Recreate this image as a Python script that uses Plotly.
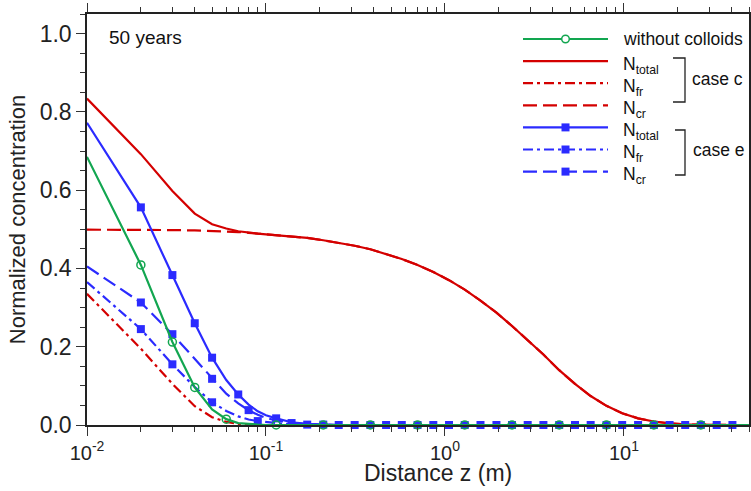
import plotly.graph_objects as go

# Distance along the column (m)
z = [0.01, 0.02, 0.03, 0.04, 0.05, 0.06, 0.07, 0.08, 0.09, 0.1,
     0.114, 0.139, 0.17, 0.209, 0.255, 0.313, 0.383, 0.469, 0.574, 0.703,
     0.861, 1.054, 1.29, 1.58, 1.94, 2.37, 2.9, 3.55, 4.35, 5.33,
     6.52, 7.99, 9.78, 12.0, 14.7, 18.0, 22.0, 26.9, 33.0, 40.4, 50.0]

# Normalized concentrations after 50 years
without_colloids = [0.685, 0.409, 0.212, 0.096, 0.040, 0.015, 0.005, 0.002, 0.001, 0.0,
                    0.0, 0.0, 0.0, 0.0, 0.0, 0.0, 0.0, 0.0, 0.0, 0.0,
                    0.0, 0.0, 0.0, 0.0, 0.0, 0.0, 0.0, 0.0, 0.0, 0.0,
                    0.0, 0.0, 0.0, 0.0, 0.0, 0.0, 0.0, 0.0, 0.0, 0.0, 0.0]

c_total = [0.834, 0.692, 0.598, 0.540, 0.513, 0.502, 0.495, 0.491, 0.489, 0.487,
           0.485, 0.482, 0.478, 0.472, 0.466, 0.458, 0.449, 0.437, 0.424, 0.409,
           0.391, 0.370, 0.346, 0.318, 0.287, 0.253, 0.217, 0.180, 0.140, 0.105,
           0.074, 0.049, 0.030, 0.017, 0.009, 0.004, 0.0015, 0.0005, 0.0, 0.0, 0.0]
c_fr = [0.335, 0.195, 0.105, 0.048, 0.020, 0.008, 0.003, 0.001, 0.0, 0.0,
        0.0, 0.0, 0.0, 0.0, 0.0, 0.0, 0.0, 0.0, 0.0, 0.0,
        0.0, 0.0, 0.0, 0.0, 0.0, 0.0, 0.0, 0.0, 0.0, 0.0,
        0.0, 0.0, 0.0, 0.0, 0.0, 0.0, 0.0, 0.0, 0.0, 0.0, 0.0]
c_cr = [0.499, 0.499, 0.498, 0.497, 0.496, 0.495, 0.493, 0.491, 0.489, 0.487,
        0.485, 0.482, 0.478, 0.472, 0.466, 0.458, 0.449, 0.437, 0.424, 0.409,
        0.391, 0.370, 0.346, 0.318, 0.287, 0.253, 0.217, 0.180, 0.140, 0.105,
        0.074, 0.049, 0.030, 0.017, 0.009, 0.004, 0.0015, 0.0005, 0.0, 0.0, 0.0]

e_total = [0.772, 0.556, 0.383, 0.260, 0.172, 0.115, 0.078, 0.052, 0.035, 0.025,
           0.017, 0.007, 0.003, 0.001, 0.0, 0.0, 0.0, 0.0, 0.0, 0.0,
           0.0, 0.0, 0.0, 0.0, 0.0, 0.0, 0.0, 0.0, 0.0, 0.0,
           0.0, 0.0, 0.0, 0.0, 0.0, 0.0, 0.0, 0.0, 0.0, 0.0, 0.0]
e_fr = [0.365, 0.245, 0.155, 0.097, 0.058, 0.036, 0.022, 0.014, 0.010, 0.007,
        0.005, 0.002, 0.001, 0.0, 0.0, 0.0, 0.0, 0.0, 0.0, 0.0,
        0.0, 0.0, 0.0, 0.0, 0.0, 0.0, 0.0, 0.0, 0.0, 0.0,
        0.0, 0.0, 0.0, 0.0, 0.0, 0.0, 0.0, 0.0, 0.0, 0.0, 0.0]
e_cr = [0.405, 0.313, 0.232, 0.168, 0.118, 0.080, 0.055, 0.038, 0.026, 0.018,
        0.012, 0.005, 0.002, 0.0005, 0.0, 0.0, 0.0, 0.0, 0.0, 0.0,
        0.0, 0.0, 0.0, 0.0, 0.0, 0.0, 0.0, 0.0, 0.0, 0.0,
        0.0, 0.0, 0.0, 0.0, 0.0, 0.0, 0.0, 0.0, 0.0, 0.0, 0.0]

x_tickvals = [0.01, 0.1, 1, 10]
x_ticktext = ["10<sup>-2</sup>", "10<sup>-1</sup>", "10<sup>0</sup>", "10<sup>1</sup>"]
y_tickvals = [0.0, 0.2, 0.4, 0.6, 0.8, 1.0]

# marker positions (indices into z) for the symbol-bearing curves
green_marks = [1, 2, 3, 5] + list(range(10, len(z), 3))
e_total_marks = [1, 2, 3, 4, 6] + list(range(10, len(z), 3))
e_cr_marks = [1, 2, 4, 7] + list(range(11, len(z), 3))
e_fr_marks = [1, 2, 4, 8] + list(range(12, len(z), 3))

GREEN = "#12a650"
RED = "#d40000"
BLUE = "#2b2bff"
DASH = "14px,6px"
DASHDOT = "10px,4px,3px,4px"
FONT = "Liberation Sans, Arial, Helvetica, sans-serif"
INK = "#111"

# plot area in pixels (used to place the key, brackets and labels)
W, H = 751, 491
L, R, T, B = 87, 749, 14, 425


def px_x(px):
    return (px - L) / (R - L)


def px_y(py):
    return (B - py) / (B - T)


fig = go.Figure()


def add_series(y, color, dash, marks=None, symbol=None):
    line = dict(color=color, width=2.2, dash=dash)
    fig.add_trace(go.Scatter(x=z, y=y, mode="lines", line=line,
                             showlegend=False, hoverinfo="skip"))
    if marks is None:
        return
    if symbol == "circle":
        marker = dict(symbol="circle", size=8, color="rgba(0,0,0,0)",
                      line=dict(color=color, width=1.5))
    else:
        marker = dict(symbol=symbol, size=8, color=color, line=dict(width=0))
    fig.add_trace(go.Scatter(x=[z[i] for i in marks], y=[y[i] for i in marks],
                             mode="markers", marker=marker, showlegend=False,
                             cliponaxis=False))


add_series(c_cr, RED, DASH)
add_series(c_fr, RED, DASHDOT)
add_series(c_total, RED, "solid")
add_series(e_cr, BLUE, DASH, e_cr_marks, "square")
add_series(e_fr, BLUE, DASHDOT, e_fr_marks, "square")
add_series(e_total, BLUE, "solid", e_total_marks, "square")
add_series(without_colloids, GREEN, "solid", green_marks, "circle")

minor_x = [m * 10.0 ** e for e in (-2, -1, 0, 1) for m in range(2, 10) if m * 10.0 ** e <= 50]

fig.update_xaxes(
    type="log", range=[-2, 1.69897], tickmode="array",
    tickvals=x_tickvals, ticktext=x_ticktext, automargin=False,
    ticks="outside", ticklen=9, tickwidth=1.2, tickcolor="#333",
    minor=dict(tickmode="array", tickvals=minor_x, ticks="outside",
               ticklen=5, tickwidth=1.2, tickcolor="#333"),
    showline=True, linecolor="#222", linewidth=1.5, mirror="ticks",
    showgrid=False, zeroline=False,
    tickfont=dict(size=20, color="#222", family=FONT),
)
fig.update_yaxes(
    range=[0, 1.05], tickmode="array", tickvals=y_tickvals, tickformat=".1f",
    automargin=False,
    ticks="outside", ticklen=9, tickwidth=1.2, tickcolor="#333",
    minor=dict(dtick=0.05, ticks="outside", ticklen=5, tickwidth=1.2, tickcolor="#333"),
    showline=True, linecolor="#222", linewidth=1.5, mirror="ticks",
    showgrid=False, zeroline=False,
    tickfont=dict(size=23, color="#222", family=FONT),
    title=dict(text="Normalized concentration", font=dict(size=22, color="#222", family=FONT),
               standoff=8),
)

# ---- key (drawn in pixel positions inside the plot area) ----
key_rows = [
    ("without colloids", GREEN, "solid", "circle"),
    ("N<sub>total</sub>", RED, "solid", None),
    ("N<sub>fr</sub>", RED, DASHDOT, None),
    ("N<sub>cr</sub>", RED, DASH, None),
    ("N<sub>total</sub>", BLUE, "solid", "square"),
    ("N<sub>fr</sub>", BLUE, DASHDOT, "square"),
    ("N<sub>cr</sub>", BLUE, DASH, "square"),
]
KEY_X0, KEY_X1, KEY_TEXT_X, KEY_Y0, KEY_DY = 523, 608, 621, 39, 22.1

shapes = []
annotations = []
for i, (label, color, dash, sym) in enumerate(key_rows):
    yy = KEY_Y0 + KEY_DY * i
    shapes.append(dict(type="line", xref="paper", yref="paper",
                       x0=px_x(KEY_X0), x1=px_x(KEY_X1), y0=px_y(yy), y1=px_y(yy),
                       line=dict(color=color, width=2.2, dash=dash)))
    xm = (KEY_X0 + KEY_X1) / 2
    if sym == "square":
        shapes.append(dict(type="rect", xref="paper", yref="paper",
                           x0=px_x(xm - 4), x1=px_x(xm + 4),
                           y0=px_y(yy - 4), y1=px_y(yy + 4),
                           fillcolor=color, line=dict(width=0)))
    elif sym == "circle":
        shapes.append(dict(type="circle", xref="paper", yref="paper",
                           x0=px_x(xm - 3.8), x1=px_x(xm + 3.8),
                           y0=px_y(yy - 3.8), y1=px_y(yy + 3.8),
                           fillcolor="white", line=dict(color=color, width=1.5)))
    sub = "<sub>" in label
    annotations.append(dict(text=label, x=px_x(KEY_TEXT_X), y=px_y(yy + (4 if sub else 0)),
                            xref="paper", yref="paper", xanchor="left", yanchor="middle",
                            showarrow=False, font=dict(size=17.5, color=INK, family=FONT)))

# brackets grouping the two cases
for x0, x1, y0, y1 in [(673, 685, 58, 102), (675, 685, 130, 175)]:
    shapes.append(dict(type="path", xref="paper", yref="paper",
                       path=f"M {px_x(x0)},{px_y(y0)} L {px_x(x1)},{px_y(y0)} "
                            f"L {px_x(x1)},{px_y(y1)} L {px_x(x0)},{px_y(y1)}",
                       line=dict(color="#222", width=1.3)))

annotations += [
    dict(text="case c", x=px_x(690), y=px_y(79), xref="paper", yref="paper",
         xanchor="left", yanchor="middle", showarrow=False,
         font=dict(size=17.5, color=INK, family=FONT)),
    dict(text="case e", x=px_x(691), y=px_y(150), xref="paper", yref="paper",
         xanchor="left", yanchor="middle", showarrow=False,
         font=dict(size=17.5, color=INK, family=FONT)),
    dict(text="50 years", x=px_x(107), y=px_y(37), xref="paper", yref="paper",
         xanchor="left", yanchor="middle", showarrow=False,
         font=dict(size=19, color=INK, family=FONT)),
    dict(text="Distance z (m)", x=px_x(438), y=px_y(473), xref="paper", yref="paper",
         xanchor="center", yanchor="middle", showarrow=False,
         font=dict(size=23, color="#222", family=FONT)),
]

fig.update_layout(
    width=W, height=H,
    margin=dict(l=L, r=W - R, t=T, b=H - B),
    paper_bgcolor="white", plot_bgcolor="white",
    font=dict(family=FONT, color=INK),
    shapes=shapes, annotations=annotations,
    showlegend=False,
)

fig.write_html("out.html")
